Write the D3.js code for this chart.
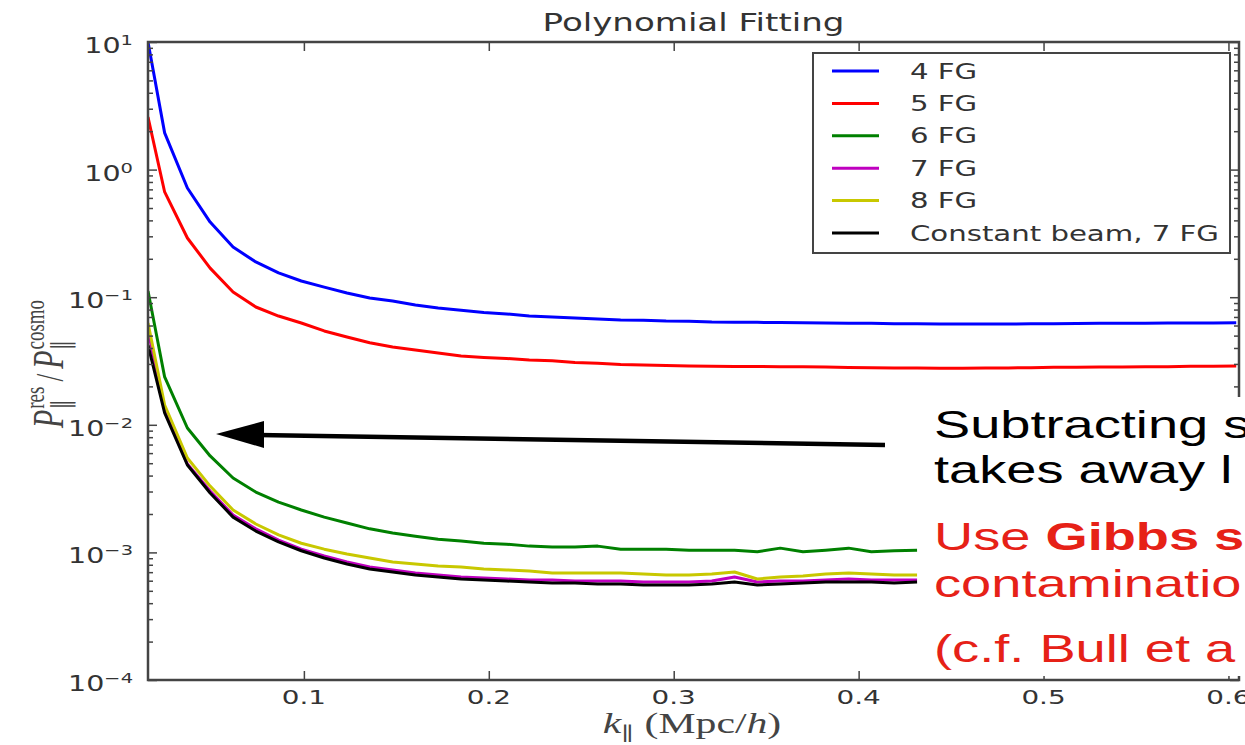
<!DOCTYPE html>
<html>
<head>
<meta charset="utf-8">
<script src="https://cdn.jsdelivr.net/npm/d3@7"></script>
<style>
  body { margin: 0; background: #fff; }
  svg { display: block; }
</style>
</head>
<body>
<svg width="1245" height="745"></svg>
<script>
// k_parallel grid (Mpc/h)
const kValues = [0.0157, 0.0247, 0.0370, 0.0493, 0.0617, 0.0740, 0.0863, 0.0986, 0.1110, 0.1233,
  0.1356, 0.1480, 0.1603, 0.1726, 0.1850, 0.1973, 0.2096, 0.2219, 0.2343, 0.2466,
  0.2589, 0.2713, 0.2836, 0.2959, 0.3083, 0.3206, 0.3329, 0.3452, 0.3576, 0.3699,
  0.3822, 0.3946, 0.4069, 0.4192, 0.4316, 0.4439, 0.4562, 0.4685, 0.4809, 0.4932,
  0.5055, 0.5179, 0.5302, 0.5425, 0.5549, 0.5672, 0.5795, 0.5918, 0.6042];

const fg4 = [10.0, 1.94, 0.718, 0.388, 0.247, 0.189, 0.155, 0.134, 0.120, 0.108,
  0.0986, 0.0934, 0.0870, 0.0823, 0.0790, 0.0760, 0.0739, 0.0712, 0.0700, 0.0687,
  0.0675, 0.0663, 0.0660, 0.0651, 0.0648, 0.0639, 0.0637, 0.0635, 0.0634, 0.0630,
  0.0628, 0.0626, 0.0624, 0.0620, 0.0618, 0.0617, 0.0617, 0.0616, 0.0617, 0.0618,
  0.0620, 0.0622, 0.0624, 0.0625, 0.0626, 0.0627, 0.0628, 0.0629, 0.0630];

const fg5 = [2.58, 0.668, 0.291, 0.169, 0.110, 0.0838, 0.0712, 0.0628, 0.0544, 0.0488,
  0.0440, 0.0407, 0.0386, 0.0365, 0.0346, 0.0337, 0.0331, 0.0322, 0.0317, 0.0308,
  0.0303, 0.0297, 0.0294, 0.0292, 0.0289, 0.0287, 0.0286, 0.0286, 0.0285, 0.0285,
  0.0284, 0.0281, 0.0280, 0.0279, 0.0279, 0.0278, 0.0278, 0.0279, 0.0279, 0.0280,
  0.0282, 0.0283, 0.0284, 0.0284, 0.0285, 0.0285, 0.0287, 0.0288, 0.0289];

const fg6 = [0.112, 0.0237, 0.00944, 0.00570, 0.00383, 0.00297, 0.00248, 0.00215, 0.00189, 0.00170,
  0.00153, 0.00142, 0.00134, 0.00127, 0.00123, 0.00118, 0.00116, 0.00112, 0.00110, 0.00110,
  0.00112, 0.00106, 0.00106, 0.00106, 0.00104, 0.00104, 0.00104, 0.00101, 0.00108, 0.00101,
  0.00104, 0.00108, 0.00101, 0.00103, 0.00104];

const fg7 = [0.0553, 0.0131, 0.00493, 0.00303, 0.00196, 0.00153, 0.00125, 0.00106, 0.000937, 0.000841,
  0.000768, 0.000729, 0.000690, 0.000665, 0.000642, 0.000630, 0.000619, 0.000608, 0.000608, 0.000597,
  0.000597, 0.000597, 0.000586, 0.000586, 0.000586, 0.000597, 0.000642, 0.000586, 0.000597, 0.000597,
  0.000608, 0.000619, 0.000608, 0.000608, 0.000608];

const fg8 = [0.0628, 0.0143, 0.00549, 0.00331, 0.00215, 0.00167, 0.00137, 0.00118, 0.00106, 0.000972,
  0.000904, 0.000841, 0.000811, 0.000782, 0.000768, 0.000741, 0.000729, 0.000715, 0.000690, 0.000690,
  0.000690, 0.000690, 0.000677, 0.000665, 0.000665, 0.000677, 0.000702, 0.000619, 0.000642, 0.000653,
  0.000677, 0.000690, 0.000677, 0.000665, 0.000665];

const constBeam = [0.0422, 0.0124, 0.00484, 0.00292, 0.00189, 0.00147, 0.00121, 0.00103, 0.000904, 0.000811,
  0.000741, 0.000702, 0.000665, 0.000642, 0.000619, 0.000608, 0.000597, 0.000586, 0.000576, 0.000576,
  0.000565, 0.000565, 0.000555, 0.000555, 0.000555, 0.000565, 0.000586, 0.000555, 0.000565, 0.000576,
  0.000586, 0.000586, 0.000586, 0.000576, 0.000586];

const seriesNames = ["4 FG", "5 FG", "6 FG", "7 FG", "8 FG", "Constant beam, 7 FG"];
const seriesColors = ["#0000ff", "#ff0000", "#008000", "#bf00bf", "#c8c800", "#000000"];
const seriesValues = [fg4, fg5, fg6, fg7, fg8, constBeam];

const xTicks = [0.1, 0.2, 0.3, 0.4, 0.5, 0.6];
const yExponents = [1, 0, -1, -2, -3, -4];

// the slide stretched the whole figure sideways, so text is widened too
const SX = 1.39;
const sans = "'DejaVu Sans', sans-serif";
const serif = "'Liberation Serif', 'DejaVu Serif', serif";
const axisGrey = "#444";

const svg = d3.select("svg");
const L = 148, R = 1239, T = 42, B = 680;

const x = d3.scaleLinear().domain([0.0157, 0.6057]).range([L, R]);
const y = d3.scaleLog().domain([1e-4, 10]).range([B, T]);

svg.append("defs").append("clipPath").attr("id", "plotclip")
  .append("rect").attr("x", L).attr("y", T).attr("width", R - L).attr("height", B - T);

// title
svg.append("text")
  .attr("transform", `translate(${(L + R) / 2},31) scale(${SX},1)`)
  .attr("text-anchor", "middle")
  .style("font-family", sans).style("font-size", "24.5px").attr("fill", "#333")
  .text("Polynomial Fitting");

// curves
const plot = svg.append("g").attr("clip-path", "url(#plotclip)");
const line = d3.line().x((d, i) => x(kValues[i])).y(d => y(d));

seriesValues.forEach((vals, i) => {
  plot.append("path")
    .datum(vals)
    .attr("d", line)
    .attr("fill", "none")
    .attr("stroke", seriesColors[i])
    .attr("stroke-width", 3)
    .attr("stroke-linejoin", "round");
});

// ticks
const yMinor = [];
for (let e = -4; e < 1; e++) for (let m = 2; m <= 9; m++) yMinor.push(m * Math.pow(10, e));
const yMajor = yExponents.map(e => Math.pow(10, e));

function tickAxis(axis, transform) {
  const g = svg.append("g").attr("transform", transform).call(axis);
  g.select(".domain").remove();
  g.selectAll(".tick line").attr("stroke", axisGrey).attr("stroke-width", 1.5);
  g.selectAll(".tick text").remove();
  return g;
}
tickAxis(d3.axisLeft(y).tickValues(yMajor).tickSize(-9), `translate(${L},0)`);
tickAxis(d3.axisLeft(y).tickValues(yMinor).tickSize(-5), `translate(${L},0)`);
tickAxis(d3.axisRight(y).tickValues(yMajor).tickSize(-9), `translate(${R},0)`);
tickAxis(d3.axisRight(y).tickValues(yMinor).tickSize(-5), `translate(${R},0)`);
tickAxis(d3.axisBottom(x).tickValues(xTicks).tickSize(-9), `translate(0,${B})`);
tickAxis(d3.axisTop(x).tickValues(xTicks).tickSize(-9), `translate(0,${T})`);

// frame
svg.append("rect")
  .attr("x", L).attr("y", T).attr("width", R - L).attr("height", B - T)
  .attr("fill", "none").attr("stroke", axisGrey).attr("stroke-width", 2.5);

// x tick labels
svg.append("g").selectAll("text")
  .data(xTicks)
  .join("text")
  .attr("transform", d => `translate(${x(d)},704) scale(${SX},1)`)
  .attr("text-anchor", "middle")
  .style("font-family", sans).style("font-size", "20px").attr("fill", "#333")
  .text(d => d.toFixed(1));

// y tick labels 10^e
const yl = svg.append("g").selectAll("text")
  .data(yExponents)
  .join("text")
  .attr("transform", d => `translate(133,${y(Math.pow(10, d)) + 11}) scale(${SX},1)`)
  .attr("text-anchor", "end")
  .style("font-family", sans).attr("fill", "#333");
yl.append("tspan").style("font-size", "20.5px").text("10");
yl.append("tspan").style("font-size", "14px").attr("dy", -8).text(d => d < 0 ? "\u2212" + (-d) : d);

// math labels built from pieces
function mathLabel(g, pieces) {
  let cx = 0;
  pieces.forEach(p => {
    if (p.stack) {
      let w = 0;
      p.stack.forEach(s => {
        const t = g.append("text").attr("x", cx).attr("y", s.dy)
          .style("font-family", serif).style("font-size", s.size + "px")
          .style("font-style", s.italic ? "italic" : "normal")
          .attr("fill", "#444").text(s.text);
        w = Math.max(w, t.node().getComputedTextLength());
      });
      cx += w + (p.gap || 2);
    } else {
      const t = g.append("text").attr("x", cx).attr("y", 0)
        .style("font-family", serif).style("font-size", p.size + "px")
        .style("font-style", p.italic ? "italic" : "normal")
        .attr("fill", "#444").text(p.text);
      cx += t.node().getComputedTextLength() + (p.gap || 0);
    }
  });
  g.selectAll("text").attr("x", function () { return +d3.select(this).attr("x") - cx / 2; });
}

const xlab = svg.append("g").attr("transform", `translate(692,733) scale(${SX},1)`);
mathLabel(xlab, [
  {text: "k", size: 30, italic: true},
  {stack: [{text: "\u2225", size: 19, dy: 7}], gap: 8},
  {text: "(Mpc/", size: 30},
  {text: "h", size: 30, italic: true},
  {text: ")", size: 30}
]);

const ylab = svg.append("g").attr("transform", `translate(63,363) rotate(-90) scale(1,1.45)`);
mathLabel(ylab, [
  {text: "P", size: 30, italic: true, gap: 1},
  {stack: [{text: "res", size: 19, dy: -13}, {text: "\u2225", size: 19, dy: 7}], gap: 5},
  {text: "/", size: 28, gap: 5},
  {text: "P", size: 30, italic: true, gap: 1},
  {stack: [{text: "cosmo", size: 19, dy: -13}, {text: "\u2225", size: 19, dy: 7}]}
]);

// legend
const legend = svg.append("g");
legend.append("rect")
  .attr("x", 813).attr("y", 53).attr("width", 417).attr("height", 200)
  .attr("fill", "#fff").attr("stroke", axisGrey).attr("stroke-width", 2);
const rowY = d3.scaleLinear().domain([0, 5]).range([71, 233]);
const rows = legend.selectAll("g.row")
  .data(seriesNames)
  .join("g")
  .attr("class", "row")
  .attr("transform", (d, i) => `translate(0,${rowY(i)})`);
rows.append("line")
  .attr("x1", 832).attr("x2", 879)
  .attr("stroke", (d, i) => seriesColors[i]).attr("stroke-width", 3);
rows.append("text")
  .attr("transform", `translate(910,7.5) scale(${SX},1)`)
  .style("font-family", sans).style("font-size", "21px").attr("fill", "#333")
  .text(d => d);

// overlaid slide annotation
svg.append("rect")
  .attr("x", 918).attr("y", 397).attr("width", 330).attr("height", 279)
  .attr("fill", "#fff");

svg.append("line")
  .attr("x1", 885).attr("y1", 445).attr("x2", 258).attr("y2", 435)
  .attr("stroke", "#000").attr("stroke-width", 4.5);
svg.append("path")
  .attr("d", "M216,434 L264,421 L264,448 Z")
  .attr("fill", "#000");

const noteFont = "'Liberation Sans', Arial, sans-serif";
const noteLines = [
  {y: 438, parts: [{t: "Subtracting s", c: "#000"}]},
  {y: 483, parts: [{t: "takes away l", c: "#000"}]},
  {y: 550, parts: [{t: "Use ", c: "#e62117"}, {t: "Gibbs s", c: "#e62117", bold: true}]},
  {y: 597, parts: [{t: "contaminatio", c: "#e62117"}]},
  {y: 662, parts: [{t: "(c.f. Bull et a", c: "#e62117"}]}
];
noteLines.forEach(l => {
  const t = svg.append("text")
    .attr("transform", `translate(934,${l.y}) scale(${SX},1)`)
    .style("font-family", noteFont).style("font-size", "39px");
  l.parts.forEach(p => {
    t.append("tspan").attr("fill", p.c)
      .style("font-weight", p.bold ? "bold" : "normal")
      .text(p.t);
  });
});
</script>
</body>
</html>
